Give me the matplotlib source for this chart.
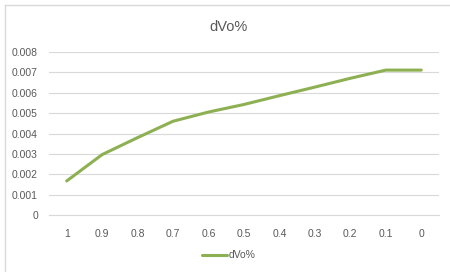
import matplotlib
matplotlib.use('Agg')
import matplotlib.pyplot as plt
from matplotlib.lines import Line2D

categories = ['1', '0.9', '0.8', '0.7', '0.6', '0.5', '0.4', '0.3', '0.2', '0.1', '0']
dvo = [0.00168, 0.00297, 0.00380, 0.00460, 0.00505, 0.00542, 0.00585, 0.00627, 0.00670, 0.00710, 0.00710]
y_ticks = [0, 0.001, 0.002, 0.003, 0.004, 0.005, 0.006, 0.007, 0.008]
y_labels = ['0', '0.001', '0.002', '0.003', '0.004', '0.005', '0.006', '0.007', '0.008']

plt.rcParams['font.family'] = ['Liberation Sans', 'DejaVu Sans']
text_color = '#595959'
grid_color = '#d9d9d9'
line_color = '#8db053'

fig = plt.figure(figsize=(4.5, 2.72), dpi=100)
ax = fig.add_axes([49 / 450, 1 - 215.3 / 272, 390 / 450, (215.3 - 51.7) / 272])

x = list(range(len(categories)))
ax.plot(x, dvo, color=line_color, linewidth=2.2, solid_capstyle='round', label='dVo%', zorder=3)

ax.set_xlim(-0.5, len(categories) - 0.5)
ax.set_ylim(0, 0.008)
ax.set_xticks(x)
ax.set_xticklabels(categories)
ax.set_yticks(y_ticks)
ax.set_yticklabels(y_labels)
ax.tick_params(axis='both', length=0, labelsize=7.5, colors=text_color)
ax.tick_params(axis='x', pad=10)
ax.tick_params(axis='y', pad=8)

# Excel-style horizontal gridlines
ax.grid(True, axis='y', color=grid_color, linewidth=0.8)
ax.set_axisbelow(True)
for side in ['top', 'right', 'left']:
    ax.spines[side].set_visible(False)
ax.spines['bottom'].set_color(grid_color)
ax.spines['bottom'].set_linewidth(0.8)

fig.text(228.5 / 450, 1 - 27 / 272, 'dVo%', ha='center', va='center',
         fontsize=10.5, color=text_color)

leg = fig.legend(loc='center', bbox_to_anchor=(229 / 450, 1 - 255.5 / 272), frameon=False,
                 fontsize=7.5, handlelength=2.4, handletextpad=0.2, borderpad=0)
for t in leg.get_texts():
    t.set_color(text_color)

# chart area border (only top and left visible in the crop)
fig.add_artist(Line2D([5 / 450, 5 / 450], [0, 1 - 5 / 272], color=grid_color, linewidth=1,
                      transform=fig.transFigure))
fig.add_artist(Line2D([5 / 450, 1], [1 - 5 / 272, 1 - 5 / 272], color=grid_color, linewidth=1,
                      transform=fig.transFigure))

plt.savefig('out.png', dpi=100)
plt.close()
